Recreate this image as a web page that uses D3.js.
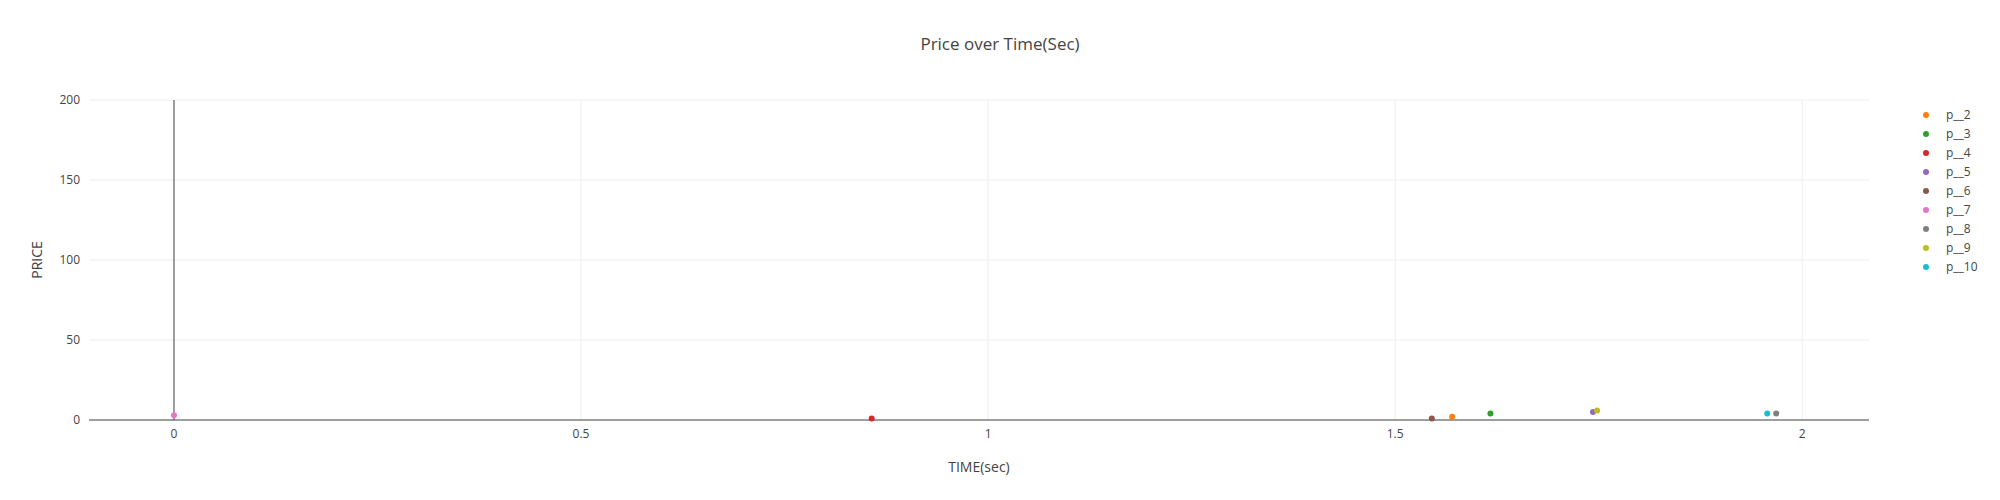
<!DOCTYPE html>
<html><head><meta charset="utf-8">
<script src="https://cdn.jsdelivr.net/npm/d3@7"></script>
<style>body{margin:0;background:#fff;font-family:"Open Sans",sans-serif;}</style>
</head><body><svg id="chart" width="2000" height="500"></svg>
<script>
// series data, one point each
const seriesNames = ["p__2","p__3","p__4","p__5","p__6","p__7","p__8","p__9","p__10"];
const seriesColors = ["#ff7f0e","#2ca02c","#d62728","#9467bd","#8c564b","#e377c2","#7f7f7f","#bcbd22","#17becf"];
const timeValues = [1.570, 1.617, 0.857, 1.743, 1.545, 0.0, 1.968, 1.748, 1.957];
const priceValues = [2, 4, 1, 5, 1, 3, 4, 6, 4];
const xTicks = [0, 0.5, 1, 1.5, 2];
const yTicks = [0, 50, 100, 150, 200];

const svg = d3.select("#chart");
const mLeft = 89, mRight = 1869, mTop = 100, mBottom = 420;
const x = d3.scaleLinear().domain([-0.1044, 2.082]).range([mLeft, mRight]);
const y = d3.scaleLinear().domain([0, 200]).range([mBottom, mTop]);

// grid
svg.append("g").selectAll("line").data(xTicks).join("line")
  .attr("x1", d=>x(d)).attr("x2", d=>x(d)).attr("y1", mTop).attr("y2", mBottom)
  .attr("stroke", "#eee");
svg.append("g").selectAll("line").data(yTicks).join("line")
  .attr("x1", mLeft).attr("x2", mRight).attr("y1", d=>y(d)).attr("y2", d=>y(d))
  .attr("stroke", "#eee");
// zero lines
svg.append("line").attr("x1", x(0)).attr("x2", x(0)).attr("y1", mTop).attr("y2", mBottom).attr("stroke", "#444");
svg.append("line").attr("x1", mLeft).attr("x2", mRight).attr("y1", y(0)).attr("y2", y(0)).attr("stroke", "#444");

// tick labels
svg.append("g").selectAll("text").data(xTicks).join("text")
  .attr("x", d=>x(d)).attr("y", mBottom + 18).attr("text-anchor", "middle")
  .attr("font-size", 12).attr("fill", "#444").text(d=>d);
svg.append("g").selectAll("text").data(yTicks).join("text")
  .attr("x", mLeft - 9).attr("y", d=>y(d) + 4).attr("text-anchor", "end")
  .attr("font-size", 12).attr("fill", "#444").text(d=>d);

// titles
svg.append("text").attr("x", 1000).attr("y", 50).attr("text-anchor", "middle")
  .attr("font-size", 17).attr("fill", "#444").text("Price over Time(Sec)");
svg.append("text").attr("x", 979).attr("y", 472).attr("text-anchor", "middle")
  .attr("font-size", 14).attr("fill", "#444").text("TIME(sec)");
svg.append("text").attr("transform", "translate(42,260) rotate(-90)").attr("text-anchor", "middle")
  .attr("font-size", 14).attr("fill", "#444").text("PRICE");

// points
svg.append("g").selectAll("circle").data(seriesNames).join("circle")
  .attr("cx", (d,i)=>x(timeValues[i])).attr("cy", (d,i)=>y(priceValues[i]))
  .attr("r", 3).attr("fill", (d,i)=>seriesColors[i]);

// legend
const lg = svg.append("g").selectAll("g").data(seriesNames).join("g")
  .attr("transform", (d,i)=>`translate(1926,${115 + i*19})`);
lg.append("circle").attr("r", 3).attr("fill", (d,i)=>seriesColors[i]);
lg.append("text").attr("x", 20).attr("y", 4).attr("font-size", 12).attr("fill", "#444").text(d=>d);
</script></body></html>
